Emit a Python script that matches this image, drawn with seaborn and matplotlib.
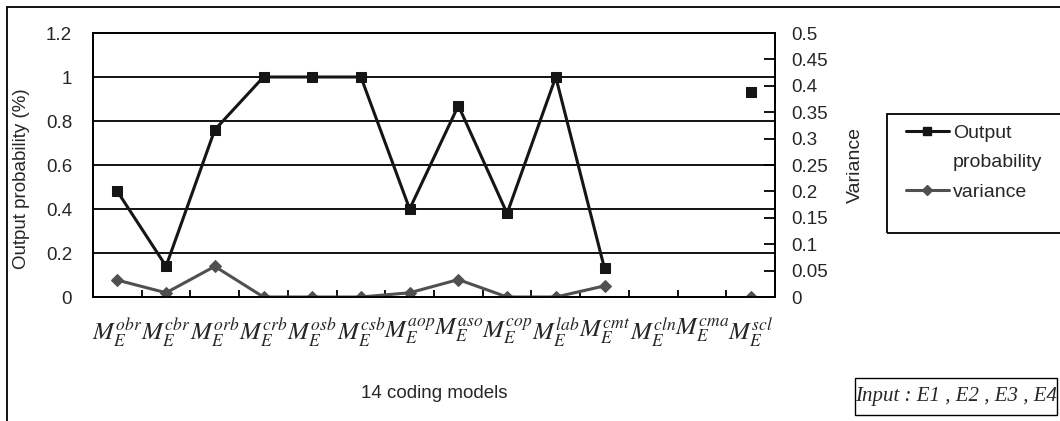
import numpy as np
import pandas as pd
import matplotlib
matplotlib.use("Agg")
import matplotlib.pyplot as plt
import seaborn as sns
from matplotlib.patches import Rectangle
from matplotlib.lines import Line2D
from matplotlib.ticker import FixedLocator

# data
models = ["obr", "cbr", "orb", "crb", "osb", "csb", "aop", "aso",
          "cop", "lab", "cmt", "cln", "cma", "scl"]
output_prob = [0.48, 0.14, 0.76, 1.0, 1.0, 1.0, 0.40, 0.87,
               0.38, 1.0, 0.13, np.nan, np.nan, 0.93]
variance = [0.032, 0.008, 0.058, 0.0, 0.0, 0.0, 0.008, 0.033,
            0.0, 0.0, 0.021, np.nan, np.nan, 0.0]
# pieces of the line (gaps where a model has no value)
segment = [0] * 11 + [1, 1] + [2]

left_ticks = [0, 0.2, 0.4, 0.6, 0.8, 1.0, 1.2]
right_ticks = [0, 0.05, 0.1, 0.15, 0.2, 0.25, 0.3, 0.35, 0.4, 0.45, 0.5]

sns.set_theme(style="white")
plt.rcParams["font.family"] = ["Liberation Sans", "DejaVu Sans"]
plt.rcParams["mathtext.fontset"] = "stix"

df = pd.DataFrame({
    "pos": np.arange(len(models)),
    "prob": output_prob,
    "var": variance,
    "seg": segment,
})

W, H = 1060, 421
fig = plt.figure(figsize=(W / 100, H / 100), dpi=100)
ax = fig.add_axes([93 / W, 1 - 297 / H, 682 / W, 264 / H])
ax2 = ax.twinx()

prob_color = "#151515"
var_color = "#505050"

sns.lineplot(data=df.dropna(subset=["prob"]), x="pos", y="prob", units="seg",
             estimator=None, ax=ax, color=prob_color, lw=2.2, marker="s",
             markersize=7, markeredgecolor=prob_color, legend=False)
sns.lineplot(data=df.dropna(subset=["var"]), x="pos", y="var", units="seg",
             estimator=None, ax=ax2, color=var_color, lw=2.2, marker="D",
             markersize=6.5, markeredgecolor=var_color, legend=False)

ax.set_xlim(-0.5, len(models) - 0.5)
ax.set_ylim(0, 1.2)
ax2.set_ylim(0, 0.5)

ax.set_yticks(left_ticks)
ax.set_yticklabels([f"{t:g}" for t in left_ticks], fontsize=13.5)
ax.yaxis.grid(True, color="black", lw=1.3)
ax.xaxis.grid(False)
ax.tick_params(axis="y", length=0, pad=15)

ax2.set_yticks(right_ticks)
ax2.set_yticklabels([f"{t:g}" for t in right_ticks], fontsize=13.5)
ax2.tick_params(axis="y", direction="in", length=8, width=1.3, pad=12,
                color="black")
ax2.grid(False)

ax.set_xticks(df["pos"])
ax.set_xticklabels([f"$M_E^{{{m}}}$" for m in models], fontsize=18)
ax.xaxis.set_minor_locator(FixedLocator(np.arange(0.5, len(models) - 0.5, 1)))
ax.tick_params(axis="x", which="major", length=0, pad=14)
ax.tick_params(axis="x", which="minor", direction="in", length=5, width=1.3,
               bottom=True, color="black")
ax2.tick_params(axis="x", which="both", length=0)

for a in (ax, ax2):
    for sp in a.spines.values():
        sp.set_color("black")
        sp.set_linewidth(1.3)

ax.set_xlabel("14 coding models", fontsize=13.5, labelpad=26)
ax.set_ylabel("Output probability (%)", fontsize=13.5)
ax.yaxis.set_label_coords(-0.092, 0.45)
ax2.set_ylabel("Variance", fontsize=14, rotation=90)
ax2.yaxis.set_label_coords(1.105, 0.5)

# legend; the handle sits on the first line of the two-line label,
# so the second line is an entry with no visible handle
handles = [
    Line2D([], [], color=prob_color, lw=2.2, marker="s", markersize=6),
    Line2D([], [], color="none"),
    Line2D([], [], color=var_color, lw=2.2, marker="D", markersize=5),
]
fig.legend(handles, ["Output", "probability", "variance"],
           loc="upper left", bbox_to_anchor=(906 / W, 1 - 124 / H),
           fontsize=14, frameon=False, handlelength=2.2,
           handletextpad=0.2, borderpad=0, labelspacing=0.62,
           borderaxespad=0)
fig.add_artist(Rectangle((887 / W, 1 - 233 / H), 200 / W, 119 / H,
                         transform=fig.transFigure, fill=False,
                         ec="black", lw=1.3, clip_on=False))

# box with the input note
fig.add_artist(Rectangle((855 / W, 1 - 415 / H), 202 / W, 37 / H,
                         transform=fig.transFigure, fill=False,
                         ec="black", lw=1.0, clip_on=False))
fig.text(956 / W, 1 - 397 / H, "Input : E1 , E2 , E3 , E4",
         family=["Liberation Serif", "DejaVu Serif"], style="italic",
         fontsize=15, ha="center", va="center")

# outer chart frame (only left and top edges are inside the picture)
fig.add_artist(Rectangle((7 / W, -0.5), 2, 1.5 - 7 / H,
                         transform=fig.transFigure, fill=False,
                         ec="black", lw=1.3, clip_on=False))

fig.savefig("out.png", dpi=100)
